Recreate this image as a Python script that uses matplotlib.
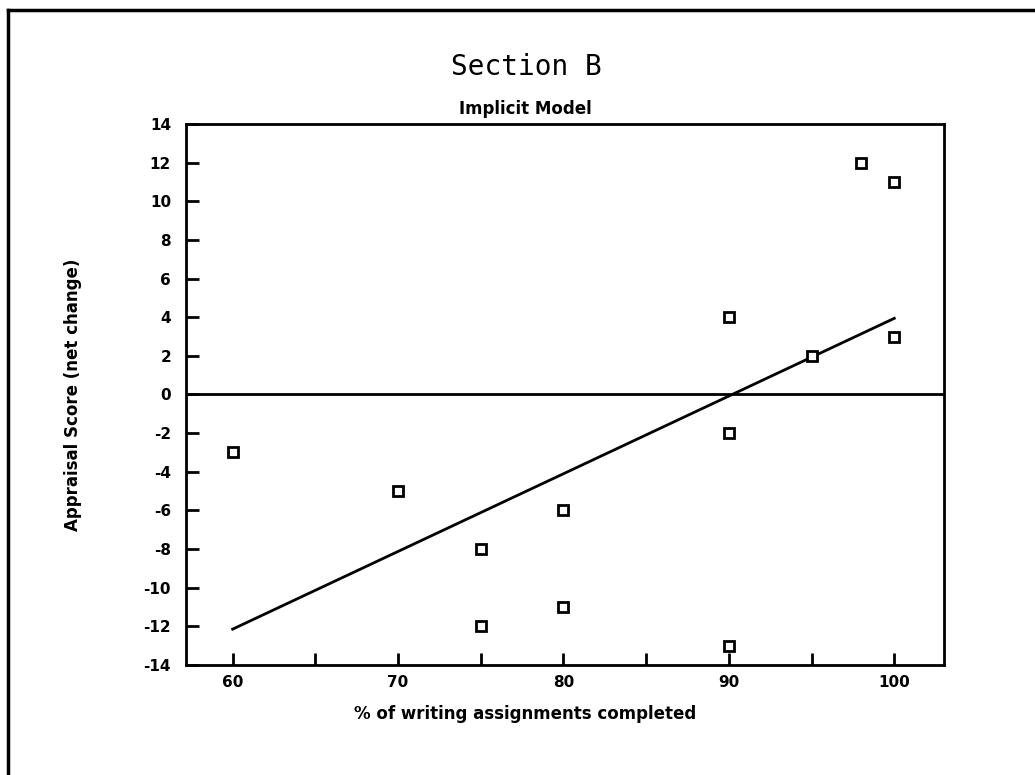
import numpy as np
import matplotlib
matplotlib.use("Agg")
import matplotlib.pyplot as plt
from matplotlib.lines import Line2D

plt.rcParams["axes.unicode_minus"] = False

# data
pct_done = [60, 70, 75, 75, 80, 80, 90, 90, 90, 95, 98, 100, 100]
score = [-3, -5, -8, -12, -6, -11, 4, -2, -13, 2, 12, 11, 3]
x_ticks = [60, 70, 80, 90, 100]
x_minor = [65, 75, 85, 95]
y_ticks = list(range(-14, 15, 2))

fig = plt.figure(figsize=(10.35, 7.75), dpi=100)
ax = fig.add_axes([0.18, 0.142, 0.732, 0.698])

# least squares line over the data range
slope, icpt = np.polyfit(pct_done, score, 1)
fx = np.array([min(pct_done), max(pct_done)])
ax.plot(fx, slope * fx + icpt, color="black", lw=2)
ax.axhline(0, color="black", lw=2)

ax.plot(pct_done, score, linestyle="none", marker="s", markersize=7,
        markerfacecolor="white", markeredgecolor="black", markeredgewidth=2)

ax.set_xlim(57.2, 103.0)
ax.set_ylim(-14, 14)
ax.set_xticks(x_ticks)
ax.set_xticks(x_minor, minor=True)
ax.set_yticks(y_ticks)
ax.tick_params(axis="both", which="both", direction="in", width=2,
               labelsize=11, top=False, right=False)
ax.tick_params(axis="x", which="major", length=9, pad=7)
ax.tick_params(axis="x", which="minor", length=9)
ax.tick_params(axis="y", length=9, pad=11)
for lab in ax.get_xticklabels() + ax.get_yticklabels():
    lab.set_fontweight("bold")
for s in ax.spines.values():
    s.set_linewidth(2)

ax.set_ylabel("Appraisal Score (net change)", fontsize=12,
              fontweight="bold", labelpad=44)

fig.text(0.507, 0.079, "% of writing assignments completed", fontsize=12,
         fontweight="bold", ha="center", va="center")
fig.text(0.509, 0.913, "Section B", fontsize=20, family="DejaVu Sans Mono",
         ha="center", va="center")
fig.text(0.508, 0.859, "Implicit Model", fontsize=12, fontweight="bold",
         ha="center", va="center")

# scan frame (top and left edges)
fig.add_artist(Line2D([0.008, 1.0], [0.987, 0.987], color="black", lw=2.5,
                      transform=fig.transFigure))
fig.add_artist(Line2D([0.008, 0.008], [0.0, 0.987], color="black", lw=2.5,
                      transform=fig.transFigure))

fig.savefig("out.png", dpi=100)
